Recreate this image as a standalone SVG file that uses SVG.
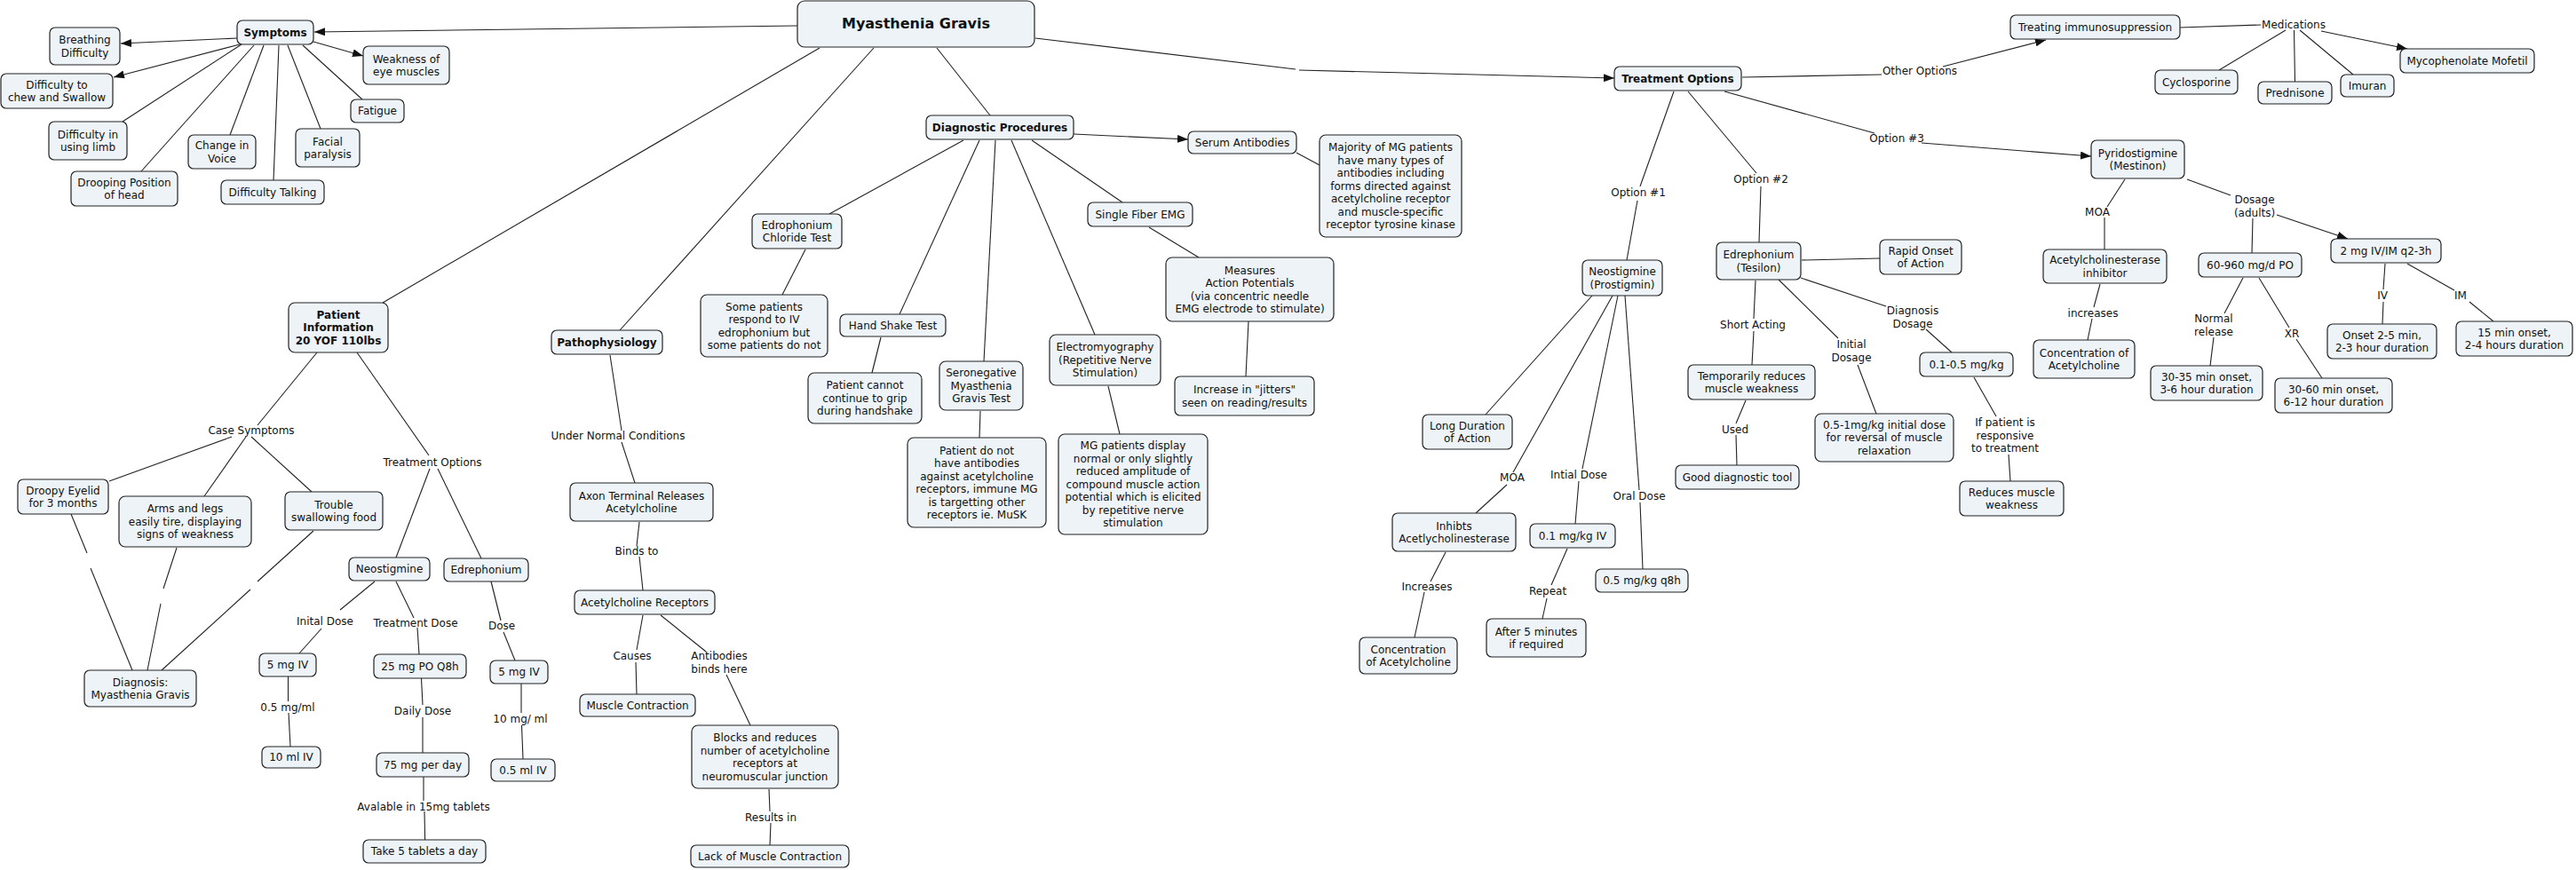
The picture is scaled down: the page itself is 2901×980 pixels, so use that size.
<svg xmlns="http://www.w3.org/2000/svg" width="2901" height="980" viewBox="0 0 2901 980">
<style>
.n rect{fill:#edf3f6;stroke:#222;stroke-width:1.2}
text{font-family:"DejaVu Sans",Verdana,"Liberation Sans",sans-serif;font-size:12px;fill:#111;text-anchor:middle}
.b{font-weight:bold}
#links line{stroke:#222;stroke-width:1.1}
#links line.a{marker-end:url(#ah)}
</style>
<defs>
<marker id="ah" markerUnits="userSpaceOnUse" markerWidth="13" markerHeight="10" refX="12" refY="4.5" orient="auto"><path d="M0,0 L12,4.5 L0,9 z" fill="#111"/></marker>
</defs>
<rect width="2901" height="980" fill="#fff"/>
<g id="links">
<line class="a" x1="898" y1="29" x2="354" y2="36"/>
<line class="a" x1="267" y1="43" x2="136" y2="49"/>
<line class="a" x1="270" y1="50" x2="128" y2="87"/>
<line class="a" x1="353" y1="47" x2="409" y2="63"/>
<line x1="272" y1="50" x2="138" y2="137"/>
<line x1="286" y1="51" x2="159" y2="193"/>
<line x1="297" y1="51" x2="259" y2="152"/>
<line x1="314" y1="51" x2="308" y2="203"/>
<line x1="324" y1="51" x2="361" y2="145"/>
<line x1="341" y1="51" x2="408" y2="112"/>
<line x1="923" y1="54" x2="431" y2="341"/>
<line x1="984" y1="54" x2="698" y2="372"/>
<line x1="1055" y1="54" x2="1115" y2="130"/>
<line x1="1166" y1="43" x2="1459" y2="78"/>
<line class="a" x1="1463" y1="79" x2="1818" y2="88"/>
<line x1="357" y1="397" x2="290" y2="479"/>
<line x1="261" y1="492" x2="123" y2="542"/>
<line x1="277" y1="492" x2="230" y2="559"/>
<line x1="283" y1="492" x2="351" y2="554"/>
<line x1="402" y1="397" x2="483" y2="513"/>
<line x1="484" y1="528" x2="446" y2="628"/>
<line x1="493" y1="528" x2="542" y2="629"/>
<line x1="80" y1="579" x2="98" y2="623"/>
<line x1="102" y1="640" x2="149" y2="755"/>
<line x1="199" y1="617" x2="184" y2="663"/>
<line x1="181" y1="680" x2="166" y2="755"/>
<line x1="353" y1="598" x2="290" y2="655"/>
<line x1="282" y1="664" x2="182" y2="755"/>
<line x1="422" y1="655" x2="383" y2="687"/>
<line x1="362" y1="708" x2="337" y2="736"/>
<line x1="324.5" y1="762" x2="324.5" y2="790"/>
<line x1="325" y1="803" x2="327" y2="841"/>
<line x1="446" y1="655" x2="466" y2="696"/>
<line x1="470" y1="707" x2="472" y2="737"/>
<line x1="474.5" y1="764" x2="476" y2="794"/>
<line x1="476" y1="808" x2="476" y2="848"/>
<line x1="477" y1="875" x2="477" y2="902"/>
<line x1="478" y1="914" x2="478.6" y2="946"/>
<line x1="553" y1="655" x2="564" y2="699"/>
<line x1="567" y1="712" x2="580" y2="744"/>
<line x1="587" y1="770" x2="587" y2="803"/>
<line x1="587.5" y1="817" x2="589" y2="855"/>
<line x1="687" y1="400" x2="700" y2="485"/>
<line x1="700" y1="498" x2="715" y2="544"/>
<line x1="720" y1="588" x2="717" y2="615"/>
<line x1="720" y1="627" x2="724" y2="665"/>
<line x1="724" y1="693" x2="717" y2="732"/>
<line x1="716" y1="746" x2="717" y2="782"/>
<line x1="744" y1="693" x2="795" y2="734"/>
<line x1="818" y1="760" x2="845" y2="817"/>
<line x1="866" y1="889" x2="867" y2="914"/>
<line x1="868" y1="927" x2="867" y2="952"/>
<line class="a" x1="1209" y1="151" x2="1338" y2="157"/>
<line x1="1085" y1="158" x2="934" y2="241"/>
<line x1="907" y1="281" x2="881" y2="332"/>
<line x1="1103" y1="158" x2="1013" y2="354"/>
<line x1="992" y1="380" x2="982" y2="420"/>
<line x1="1121" y1="158" x2="1108" y2="407"/>
<line x1="1104" y1="463" x2="1103" y2="493"/>
<line x1="1139" y1="158" x2="1233" y2="377"/>
<line x1="1248" y1="435" x2="1261" y2="489"/>
<line x1="1162" y1="158" x2="1264" y2="228"/>
<line x1="1294" y1="256" x2="1350" y2="290"/>
<line x1="1406" y1="362" x2="1403" y2="424"/>
<line x1="1460" y1="172" x2="1486" y2="186"/>
<line x1="1962" y1="87" x2="2119" y2="84"/>
<line class="a" x1="2188" y1="75" x2="2304" y2="45"/>
<line x1="2455" y1="31" x2="2546" y2="28"/>
<line class="a" x1="2614" y1="35" x2="2711" y2="55"/>
<line x1="2574" y1="34" x2="2499" y2="79"/>
<line x1="2583.5" y1="34" x2="2584.5" y2="92"/>
<line x1="2590" y1="34" x2="2650" y2="84"/>
<line x1="1942" y1="103" x2="2111" y2="150"/>
<line class="a" x1="2164" y1="161" x2="2355" y2="176"/>
<line x1="2393" y1="202" x2="2373" y2="233"/>
<line x1="2370" y1="245" x2="2370" y2="281"/>
<line x1="2365" y1="320" x2="2358" y2="346"/>
<line x1="2356" y1="359" x2="2351" y2="383"/>
<line x1="2463" y1="202" x2="2512" y2="220"/>
<line class="a" x1="2564" y1="242" x2="2644" y2="269"/>
<line x1="2537" y1="246" x2="2536" y2="285"/>
<line x1="2526" y1="313" x2="2505" y2="353"/>
<line x1="2493" y1="380" x2="2489" y2="412"/>
<line x1="2544" y1="313" x2="2578" y2="369"/>
<line x1="2586" y1="382" x2="2615" y2="426"/>
<line x1="2686" y1="297" x2="2684" y2="326"/>
<line x1="2684" y1="340" x2="2683" y2="365"/>
<line x1="2711" y1="297" x2="2764" y2="327"/>
<line x1="2781" y1="340" x2="2808" y2="362"/>
<line x1="1885" y1="103" x2="1847" y2="210"/>
<line x1="1844" y1="226" x2="1832" y2="293"/>
<line x1="1901" y1="103" x2="1978" y2="195"/>
<line x1="1983" y1="210" x2="1981" y2="273"/>
<line x1="1793" y1="333" x2="1673" y2="467"/>
<line x1="1816" y1="333" x2="1704" y2="532"/>
<line x1="1697" y1="546" x2="1662" y2="578"/>
<line x1="1822" y1="333" x2="1782" y2="528"/>
<line x1="1778" y1="542" x2="1774" y2="590"/>
<line x1="1830" y1="333" x2="1846" y2="552"/>
<line x1="1847" y1="566" x2="1850" y2="641"/>
<line x1="1628" y1="622" x2="1611" y2="655"/>
<line x1="1604" y1="667" x2="1593" y2="718"/>
<line x1="1765" y1="618" x2="1747" y2="659"/>
<line x1="1742" y1="674" x2="1737" y2="697"/>
<line x1="2029" y1="293" x2="2117" y2="291"/>
<line x1="1977" y1="316" x2="1975" y2="359"/>
<line x1="1975" y1="373" x2="1973" y2="411"/>
<line x1="1966" y1="451" x2="1955" y2="477"/>
<line x1="1955" y1="490" x2="1956" y2="524"/>
<line x1="2003" y1="315" x2="2070" y2="381"/>
<line x1="2092" y1="411" x2="2113" y2="466"/>
<line x1="2028" y1="313" x2="2124" y2="345"/>
<line x1="2169" y1="371" x2="2198" y2="397"/>
<line x1="2223" y1="425" x2="2248" y2="469"/>
<line x1="2262" y1="512" x2="2264" y2="542"/>
</g>
<g id="labels">
<text x="283" y="489">Case Symptoms</text>
<text x="487" y="525">Treatment Options</text>
<text x="366" y="704">Inital Dose</text>
<text x="324" y="801">0.5 mg/ml</text>
<text x="468" y="706">Treatment Dose</text>
<text x="476" y="805">Daily Dose</text>
<text x="477" y="913">Avalable in 15mg tablets</text>
<text x="565" y="709">Dose</text>
<text x="586" y="814">10 mg/ ml</text>
<text x="696" y="495">Under Normal Conditions</text>
<text x="717" y="625">Binds to</text>
<text x="712" y="743">Causes</text>
<text x="810" y="743">Antibodies<tspan x="810" dy="14.5">binds here</tspan></text>
<text x="868" y="925">Results in</text>
<text x="1845" y="221">Option #1</text>
<text x="1983" y="206">Option #2</text>
<text x="2136" y="160">Option #3</text>
<text x="2162" y="84">Other Options</text>
<text x="1703" y="542">MOA</text>
<text x="1778" y="539">Intial Dose</text>
<text x="1846" y="563">Oral Dose</text>
<text x="1607" y="665">Increases</text>
<text x="1743" y="670">Repeat</text>
<text x="1974" y="370">Short Acting</text>
<text x="1954" y="488">Used</text>
<text x="2085" y="392">Initial<tspan x="2085" dy="14.5">Dosage</tspan></text>
<text x="2154" y="354">Diagnosis<tspan x="2154" dy="14.5">Dosage</tspan></text>
<text x="2258" y="480">If patient is<tspan x="2258" dy="14.5">responsive</tspan><tspan x="2258" dy="14.5">to treatment</tspan></text>
<text x="2583" y="32">Medications</text>
<text x="2362" y="243">MOA</text>
<text x="2539" y="229">Dosage<tspan x="2539" dy="14.5">(adults)</tspan></text>
<text x="2357" y="357">increases</text>
<text x="2493" y="363">Normal<tspan x="2493" dy="14.5">release</tspan></text>
<text x="2581" y="380">XR</text>
<text x="2683" y="337">IV</text>
<text x="2771" y="337">IM</text>
</g>
<g id="mg" class="n"><rect x="898" y="1" width="267" height="52" rx="8"/><text x="1031.5" y="32" class="b" style="font-size:16px">Myasthenia Gravis</text></g>
<g id="symptoms" class="n"><rect x="267" y="23" width="86" height="27" rx="6"/><text x="310" y="40.8" class="b">Symptoms</text></g>
<g id="breathing" class="n"><rect x="56" y="31" width="79" height="42" rx="6"/><text x="95.5" y="49">Breathing<tspan x="95.5" dy="14.5">Difficulty</tspan></text></g>
<g id="chew" class="n"><rect x="1" y="83" width="126" height="39" rx="6"/><text x="64" y="99.5">Difficulty to<tspan x="64" dy="14.5">chew and Swallow</tspan></text></g>
<g id="limb" class="n"><rect x="55" y="137" width="88" height="43" rx="6"/><text x="99" y="155.5">Difficulty in<tspan x="99" dy="14.5">using limb</tspan></text></g>
<g id="drooping" class="n"><rect x="80" y="193" width="120" height="39" rx="6"/><text x="140" y="209.5">Drooping Position<tspan x="140" dy="14.5">of head</tspan></text></g>
<g id="voice" class="n"><rect x="212" y="152" width="76" height="38" rx="6"/><text x="250" y="168">Change in<tspan x="250" dy="14.5">Voice</tspan></text></g>
<g id="talking" class="n"><rect x="249" y="203" width="116" height="27" rx="6"/><text x="307" y="220.8">Difficulty Talking</text></g>
<g id="facial" class="n"><rect x="333" y="145" width="72" height="43" rx="6"/><text x="369" y="163.5">Facial<tspan x="369" dy="14.5">paralysis</tspan></text></g>
<g id="fatigue" class="n"><rect x="395" y="112" width="60" height="26" rx="6"/><text x="425" y="129.3">Fatigue</text></g>
<g id="eye" class="n"><rect x="409" y="52" width="97" height="43" rx="6"/><text x="457.5" y="70.5">Weakness of<tspan x="457.5" dy="14.5">eye muscles</tspan></text></g>
<g id="patient" class="n"><rect x="325" y="341" width="112" height="56" rx="7"/><text x="381" y="358.8" class="b">Patient<tspan x="381" dy="14.5">Information</tspan><tspan x="381" dy="14.5">20 YOF 110lbs</tspan></text></g>
<g id="droopy" class="n"><rect x="20" y="540" width="102" height="39" rx="6"/><text x="71" y="556.5">Droopy Eyelid<tspan x="71" dy="14.5">for 3 months</tspan></text></g>
<g id="arms" class="n"><rect x="134" y="559" width="149" height="57" rx="7"/><text x="208.5" y="577.3">Arms and legs<tspan x="208.5" dy="14.5">easily tire, displaying</tspan><tspan x="208.5" dy="14.5">signs of weakness</tspan></text></g>
<g id="trouble" class="n"><rect x="321" y="554" width="110" height="43" rx="6"/><text x="376" y="572.5">Trouble<tspan x="376" dy="14.5">swallowing food</tspan></text></g>
<g id="diagnosis" class="n"><rect x="95" y="755" width="126" height="41" rx="6"/><text x="158" y="772.5">Diagnosis:<tspan x="158" dy="14.5">Myasthenia Gravis</tspan></text></g>
<g id="neo1" class="n"><rect x="393" y="628" width="91" height="26" rx="6"/><text x="438.5" y="645.3">Neostigmine</text></g>
<g id="edr1" class="n"><rect x="500" y="629" width="95" height="26" rx="6"/><text x="547.5" y="646.3">Edrephonium</text></g>
<g id="iv5a" class="n"><rect x="292" y="736" width="64" height="26" rx="6"/><text x="324" y="753.3">5 mg IV</text></g>
<g id="ml10" class="n"><rect x="295" y="841" width="66" height="24" rx="6"/><text x="328" y="857.3">10 ml IV</text></g>
<g id="po25" class="n"><rect x="421" y="737" width="104" height="27" rx="6"/><text x="473" y="754.8">25 mg PO Q8h</text></g>
<g id="day75" class="n"><rect x="424" y="848" width="104" height="27" rx="6"/><text x="476" y="865.8">75 mg per day</text></g>
<g id="take5" class="n"><rect x="409" y="946" width="138" height="26" rx="6"/><text x="478" y="963.3">Take 5 tablets a day</text></g>
<g id="iv5b" class="n"><rect x="552" y="744" width="65" height="26" rx="6"/><text x="584.5" y="761.3">5 mg IV</text></g>
<g id="ml05" class="n"><rect x="553" y="855" width="72" height="25" rx="6"/><text x="589" y="871.8">0.5 ml IV</text></g>
<g id="patho" class="n"><rect x="621" y="372" width="125" height="27" rx="6"/><text x="683.5" y="389.8" class="b">Pathophysiology</text></g>
<g id="axon" class="n"><rect x="642" y="544" width="161" height="43" rx="6"/><text x="722.5" y="562.5">Axon Terminal Releases<tspan x="722.5" dy="14.5">Acetylcholine</tspan></text></g>
<g id="achr" class="n"><rect x="647" y="665" width="158" height="27" rx="6"/><text x="726" y="682.8">Acetylcholine Receptors</text></g>
<g id="muscle" class="n"><rect x="653" y="782" width="130" height="25" rx="6"/><text x="718" y="798.8">Muscle Contraction</text></g>
<g id="blocks" class="n"><rect x="779" y="817" width="165" height="71" rx="7"/><text x="861.5" y="835">Blocks and reduces<tspan x="861.5" dy="14.5">number of acetylcholine</tspan><tspan x="861.5" dy="14.5">receptors at</tspan><tspan x="861.5" dy="14.5">neuromuscular junction</tspan></text></g>
<g id="lack" class="n"><rect x="778" y="952" width="178" height="25" rx="6"/><text x="867" y="968.8">Lack of Muscle Contraction</text></g>
<g id="diag" class="n"><rect x="1043" y="130" width="166" height="27" rx="6"/><text x="1126" y="147.8" class="b">Diagnostic Procedures</text></g>
<g id="serum" class="n"><rect x="1338" y="148" width="122" height="25" rx="6"/><text x="1399" y="164.8">Serum Antibodies</text></g>
<g id="majority" class="n"><rect x="1486" y="152" width="160" height="115" rx="7"/><text x="1566" y="170.3">Majority of MG patients<tspan x="1566" dy="14.5">have many types of</tspan><tspan x="1566" dy="14.5">antibodies including</tspan><tspan x="1566" dy="14.5">forms directed against</tspan><tspan x="1566" dy="14.5">acetylcholine receptor</tspan><tspan x="1566" dy="14.5">and muscle-specific</tspan><tspan x="1566" dy="14.5">receptor tyrosine kinase</tspan></text></g>
<g id="edrchl" class="n"><rect x="847" y="241" width="101" height="39" rx="6"/><text x="897.5" y="257.5">Edrophonium<tspan x="897.5" dy="14.5">Chloride Test</tspan></text></g>
<g id="somepat" class="n"><rect x="789" y="332" width="143" height="70" rx="7"/><text x="860.5" y="349.5">Some patients<tspan x="860.5" dy="14.5">respond to IV</tspan><tspan x="860.5" dy="14.5">edrophonium but</tspan><tspan x="860.5" dy="14.5">some patients do not</tspan></text></g>
<g id="handshake" class="n"><rect x="946" y="354" width="119" height="25" rx="6"/><text x="1005.5" y="370.8">Hand Shake Test</text></g>
<g id="cannot" class="n"><rect x="910" y="420" width="128" height="57" rx="7"/><text x="974" y="438.3">Patient cannot<tspan x="974" dy="14.5">continue to grip</tspan><tspan x="974" dy="14.5">during handshake</tspan></text></g>
<g id="seroneg" class="n"><rect x="1058" y="407" width="94" height="55" rx="7"/><text x="1105" y="424.3">Seronegative<tspan x="1105" dy="14.5">Myasthenia</tspan><tspan x="1105" dy="14.5">Gravis Test</tspan></text></g>
<g id="patdonot" class="n"><rect x="1022" y="493" width="156" height="101" rx="7"/><text x="1100" y="511.5">Patient do not<tspan x="1100" dy="14.5">have antibodies</tspan><tspan x="1100" dy="14.5">against acetylcholine</tspan><tspan x="1100" dy="14.5">receptors, immune MG</tspan><tspan x="1100" dy="14.5">is targetting other</tspan><tspan x="1100" dy="14.5">receptors ie. MuSK</tspan></text></g>
<g id="emg" class="n"><rect x="1182" y="377" width="125" height="57" rx="7"/><text x="1244.5" y="395.3">Electromyography<tspan x="1244.5" dy="14.5">(Repetitive Nerve</tspan><tspan x="1244.5" dy="14.5">Stimulation)</tspan></text></g>
<g id="mgdisplay" class="n"><rect x="1192" y="489" width="168" height="113" rx="7"/><text x="1276" y="506.3">MG patients display<tspan x="1276" dy="14.5">normal or only slightly</tspan><tspan x="1276" dy="14.5">reduced amplitude of</tspan><tspan x="1276" dy="14.5">compound muscle action</tspan><tspan x="1276" dy="14.5">potential which is elicited</tspan><tspan x="1276" dy="14.5">by repetitive nerve</tspan><tspan x="1276" dy="14.5">stimulation</tspan></text></g>
<g id="sfemg" class="n"><rect x="1225" y="228" width="118" height="27" rx="6"/><text x="1284" y="245.8">Single Fiber EMG</text></g>
<g id="measures" class="n"><rect x="1313" y="290" width="189" height="72" rx="7"/><text x="1407.5" y="308.5">Measures<tspan x="1407.5" dy="14.5">Action Potentials</tspan><tspan x="1407.5" dy="14.5">(via concentric needle</tspan><tspan x="1407.5" dy="14.5">EMG electrode to stimulate)</tspan></text></g>
<g id="jitters" class="n"><rect x="1323" y="424" width="157" height="44" rx="6"/><text x="1401.5" y="443">Increase in "jitters"<tspan x="1401.5" dy="14.5">seen on reading/results</tspan></text></g>
<g id="treat" class="n"><rect x="1818" y="75" width="143" height="27" rx="6"/><text x="1889.5" y="92.8" class="b">Treatment Options</text></g>
<g id="neo2" class="n"><rect x="1782" y="293" width="90" height="40" rx="6"/><text x="1827" y="310">Neostigmine<tspan x="1827" dy="14.5">(Prostigmin)</tspan></text></g>
<g id="longdur" class="n"><rect x="1602" y="467" width="101" height="39" rx="6"/><text x="1652.5" y="483.5">Long Duration<tspan x="1652.5" dy="14.5">of Action</tspan></text></g>
<g id="inhibts" class="n"><rect x="1568" y="578" width="139" height="43" rx="6"/><text x="1637.5" y="596.5">Inhibts<tspan x="1637.5" dy="14.5">Acetlycholinesterase</tspan></text></g>
<g id="conc1" class="n"><rect x="1531" y="718" width="110" height="41" rx="6"/><text x="1586" y="735.5">Concentration<tspan x="1586" dy="14.5">of Acetylcholine</tspan></text></g>
<g id="mg01" class="n"><rect x="1723" y="590" width="96" height="27" rx="6"/><text x="1771" y="607.8">0.1 mg/kg IV</text></g>
<g id="after5" class="n"><rect x="1674" y="697" width="112" height="43" rx="6"/><text x="1730" y="715.5">After 5 minutes<tspan x="1730" dy="14.5">if required</tspan></text></g>
<g id="q8h" class="n"><rect x="1797" y="641" width="104" height="26" rx="6"/><text x="1849" y="658.3">0.5 mg/kg q8h</text></g>
<g id="edr2" class="n"><rect x="1933" y="273" width="95" height="42" rx="6"/><text x="1980.5" y="291">Edrephonium<tspan x="1980.5" dy="14.5">(Tesilon)</tspan></text></g>
<g id="rapid" class="n"><rect x="2117" y="270" width="92" height="39" rx="6"/><text x="2163" y="286.5">Rapid Onset<tspan x="2163" dy="14.5">of Action</tspan></text></g>
<g id="temp" class="n"><rect x="1901" y="411" width="143" height="39" rx="6"/><text x="1972.5" y="427.5">Temporarily reduces<tspan x="1972.5" dy="14.5">muscle weakness</tspan></text></g>
<g id="good" class="n"><rect x="1887" y="524" width="139" height="27" rx="6"/><text x="1956.5" y="541.8">Good diagnostic tool</text></g>
<g id="initdose" class="n"><rect x="2044" y="466" width="156" height="54" rx="7"/><text x="2122" y="482.8">0.5-1mg/kg initial dose<tspan x="2122" dy="14.5">for reversal of muscle</tspan><tspan x="2122" dy="14.5">relaxation</tspan></text></g>
<g id="dose0105" class="n"><rect x="2162" y="397" width="105" height="27" rx="6"/><text x="2214.5" y="414.8">0.1-0.5 mg/kg</text></g>
<g id="reduces" class="n"><rect x="2207" y="542" width="117" height="39" rx="6"/><text x="2265.5" y="558.5">Reduces muscle<tspan x="2265.5" dy="14.5">weakness</tspan></text></g>
<g id="treating" class="n"><rect x="2264" y="17" width="191" height="27" rx="6"/><text x="2359.5" y="34.8">Treating immunosuppression</text></g>
<g id="cyclo" class="n"><rect x="2427" y="79" width="93" height="27" rx="6"/><text x="2473.5" y="96.8">Cyclosporine</text></g>
<g id="pred" class="n"><rect x="2543" y="92" width="83" height="25" rx="6"/><text x="2584.5" y="108.8">Prednisone</text></g>
<g id="imuran" class="n"><rect x="2636" y="84" width="60" height="25" rx="6"/><text x="2666" y="100.8">Imuran</text></g>
<g id="myco" class="n"><rect x="2703" y="55" width="151" height="27" rx="6"/><text x="2778.5" y="72.8">Mycophenolate Mofetil</text></g>
<g id="pyrido" class="n"><rect x="2355" y="158" width="105" height="43" rx="6"/><text x="2407.5" y="176.5">Pyridostigmine<tspan x="2407.5" dy="14.5">(Mestinon)</tspan></text></g>
<g id="ache" class="n"><rect x="2301" y="281" width="139" height="38" rx="6"/><text x="2370.5" y="297">Acetylcholinesterase<tspan x="2370.5" dy="14.5">inhibitor</tspan></text></g>
<g id="conc2" class="n"><rect x="2290" y="383" width="114" height="43" rx="6"/><text x="2347" y="401.5">Concentration of<tspan x="2347" dy="14.5">Acetylcholine</tspan></text></g>
<g id="po960" class="n"><rect x="2476" y="285" width="116" height="27" rx="6"/><text x="2534" y="302.8">60-960 mg/d PO</text></g>
<g id="on3035" class="n"><rect x="2422" y="412" width="126" height="39" rx="6"/><text x="2485" y="428.5">30-35 min onset,<tspan x="2485" dy="14.5">3-6 hour duration</tspan></text></g>
<g id="on3060" class="n"><rect x="2562" y="426" width="132" height="39" rx="6"/><text x="2628" y="442.5">30-60 min onset,<tspan x="2628" dy="14.5">6-12 hour duration</tspan></text></g>
<g id="q23h" class="n"><rect x="2625" y="269" width="124" height="27" rx="6"/><text x="2687" y="286.8">2 mg IV/IM q2-3h</text></g>
<g id="on25" class="n"><rect x="2621" y="365" width="123" height="39" rx="6"/><text x="2682.5" y="381.5">Onset 2-5 min,<tspan x="2682.5" dy="14.5">2-3 hour duration</tspan></text></g>
<g id="on15" class="n"><rect x="2766" y="362" width="131" height="39" rx="6"/><text x="2831.5" y="378.5">15 min onset,<tspan x="2831.5" dy="14.5">2-4 hours duration</tspan></text></g>
</svg>
